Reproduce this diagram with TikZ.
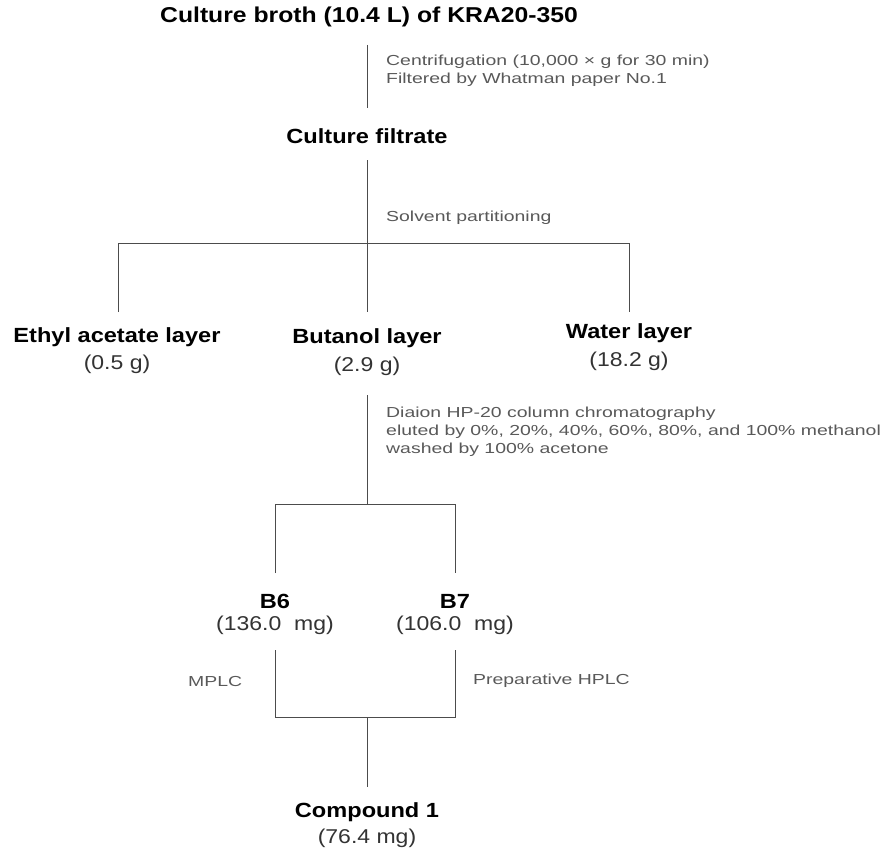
\documentclass[tikz,border=0pt]{standalone}
\usepackage{fontspec}
\setmainfont{Liberation Sans}[FakeStretch=1.15]
\newfontfamily\notefont{Liberation Sans}[FakeStretch=1.34]
\begin{document}
\begin{tikzpicture}[x=1pt,y=-1pt,
  lab/.style={font=\fontsize{20.5}{23}\selectfont\bfseries, inner sep=0pt, text=black},
  amt/.style={font=\fontsize{20}{23}\selectfont, inner sep=0pt, text=black!80},
  note/.style={font=\notefont\fontsize{14.5}{17}\selectfont, inner sep=0pt, anchor=west, text=black!65},
  ln/.style={draw=black!70, line width=0.9pt}]
\useasboundingbox[fill=white] (0,0) rectangle (884,851);

% nodes
\node[lab, font=\fontsize{21.5}{24}\selectfont\bfseries] (broth) at (369,17) {Culture broth (10.4 L) of KRA20-350};
\node[lab] (filt) at (367,136) {Culture filtrate};
\node[lab] (ea) at (117,337) {Ethyl acetate layer};
\node[amt] (eaw) at (117,364) {(0.5 g)};
\node[lab] (bu) at (367,338) {Butanol layer};
\node[amt] (buw) at (367,366) {(2.9 g)};
\node[lab] (wa) at (629,333) {Water layer};
\node[amt] (waw) at (629,361) {(18.2 g)};
\node[lab] (b6) at (275,601) {B6};
\node[amt] (b6w) at (275,625) {(136.0\ \ mg)};
\node[lab] (b7) at (455,601) {B7};
\node[amt] (b7w) at (455,625) {(106.0\ \ mg)};
\node[lab] (cp) at (367,812) {Compound 1};
\node[amt] (cpw) at (367,838) {(76.4 mg)};

% notes
\node[note] (n1) at (386,62) {Centrifugation (10,000 × g for 30 min)};
\node[note] (n2) at (386,80) {Filtered by Whatman paper No.1};
\node[note] (n3) at (386,218) {Solvent partitioning};
\node[note] (n4) at (386,414) {Diaion HP-20 column chromatography};
\node[note] (n5) at (386,432) {eluted by 0\%, 20\%, 40\%, 60\%, 80\%, and 100\% methanol};
\node[note] (n6) at (386,450) {washed by 100\% acetone};
\node[note] (n7) at (188,682) {MPLC};
\node[note] (n8) at (473,681) {Preparative HPLC};

% coordinates
\coordinate (a1) at (367,45);
\coordinate (a2) at (367,108);
\coordinate (s1) at (367,160);
\coordinate (sc) at (367,243);
\coordinate (sl) at (118,243);
\coordinate (sr) at (629,243);
\coordinate (sle) at (118,312);
\coordinate (sce) at (367,312);
\coordinate (sre) at (629,312);
\coordinate (d1) at (367,395);
\coordinate (dc) at (367,504);
\coordinate (dl) at (275,504);
\coordinate (dr) at (455,504);
\coordinate (dle) at (275,573);
\coordinate (dre) at (455,573);
\coordinate (m1) at (275,650);
\coordinate (m2) at (455,650);
\coordinate (ml) at (275,717);
\coordinate (mr) at (455,717);
\coordinate (mc) at (367,717);
\coordinate (me) at (367,787);

% lines
\draw[ln] (a1) -- (a2);
\draw[ln] (s1) -- (sce);
\draw[ln] (sle) -- (sl) -- (sr) -- (sre);
\draw[ln] (d1) -- (dc);
\draw[ln] (dle) -- (dl) -- (dr) -- (dre);
\draw[ln] (m1) -- (ml) -- (mr) -- (m2);
\draw[ln] (mc) -- (me);
\end{tikzpicture}
\end{document}
